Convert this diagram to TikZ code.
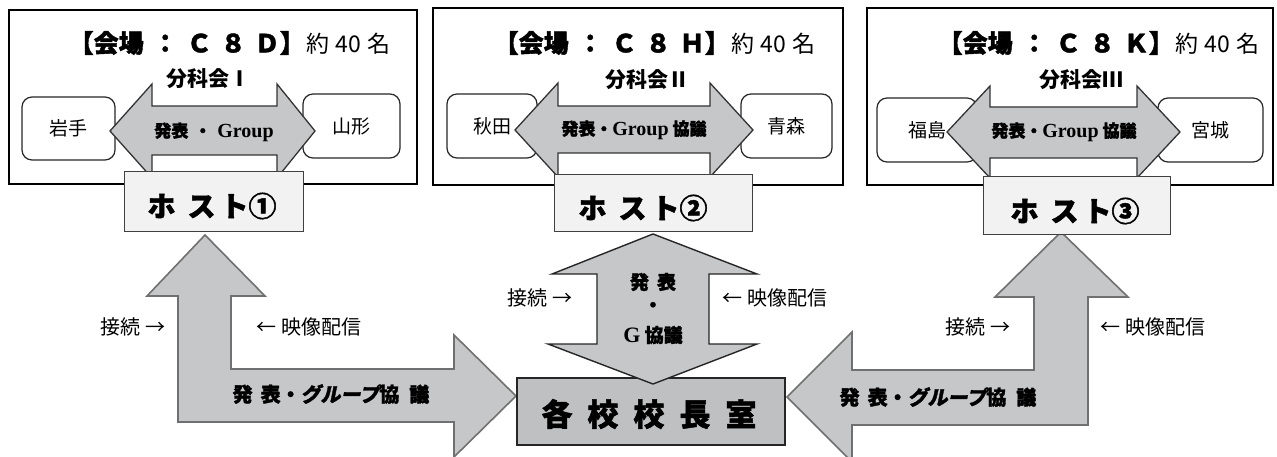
\documentclass[tikz,border=0pt]{standalone}
\usepackage{fontspec}
\setmainfont{Noto Sans CJK JP}
\newfontfamily\heavy{Noto Sans CJK JP}[BoldFeatures={FakeBold=1.6}]
\newfontfamily\heavysl{Noto Sans CJK JP}[BoldFeatures={FakeBold=1.6,FakeSlant=0.2}]
\newfontfamily\tms{Liberation Serif}
\definecolor{arrgray}{HTML}{C6C7C9}
\definecolor{arredge}{HTML}{707070}
\definecolor{hostfill}{HTML}{F2F2F2}
\definecolor{schoolfill}{HTML}{BFC0C2}
\newcommand\fs[1]{\fontsize{#1}{#1}\selectfont}
\begin{document}
\begin{tikzpicture}[x=1pt,y=-1pt,
  venue/.style={draw=black,line width=2pt,inner sep=0pt},
  pref/.style={draw=black!85,line width=1.2pt,rounded corners=10pt,fill=white,inner sep=0pt,font=\fs{19}},
  host/.style={draw=black!75,line width=1pt,fill=hostfill,inner sep=0pt},
  school/.style={draw=black!85,line width=1.2pt,fill=schoolfill,inner sep=0pt},
  smallarrow/.style={fill=arrgray,draw=black!80,line width=1.3pt,line join=miter},
  bigarrow/.style={fill=arrgray,draw=arredge,line width=1.6pt,line join=miter},
  centerarrow/.style={fill=arrgray,draw=black!85,line width=1.4pt,line join=miter},
  titletxt/.style={inner sep=0pt,font=\heavy\fs{25}\bfseries},
  subtxt/.style={inner sep=0pt,font=\fs{21}\bfseries},
  arrtxt/.style={inner sep=0pt,font=\heavy\fs{17}\bfseries},
  hosttxt/.style={inner sep=0pt,font=\heavy\fs{28}\bfseries},
  labtxt/.style={inner sep=0pt,font=\fs{20}},
  ltxt/.style={inner sep=0pt,font=\heavy\fs{20}\bfseries}
]
\useasboundingbox (0,0) rectangle (1277,457);

% venue boxes
\node[venue,minimum width=408,minimum height=174] (v1) at (213,97) {};
\node[venue,minimum width=410,minimum height=177] (v2) at (638,96.5) {};
\node[venue,minimum width=406,minimum height=177] (v3) at (1070,96.5) {};

% titles
\node[titletxt] (t1) at (229.5,43) {【会場\hspace{9pt}：\hspace{9pt}Ｃ\hspace{9pt}８\hspace{9pt}Ｄ】\hspace{2pt}\normalfont\fs{23}約\hspace{6pt}40\hspace{6pt}名};
\node[titletxt] (t2) at (654.5,43) {【会場\hspace{9pt}：\hspace{9pt}Ｃ\hspace{9pt}８\hspace{9pt}Ｈ】\hspace{2pt}\normalfont\fs{23}約\hspace{6pt}40\hspace{6pt}名};
\node[titletxt] (t3) at (1098.5,43) {【会場\hspace{9pt}：\hspace{9pt}Ｃ\hspace{9pt}８\hspace{9pt}Ｋ】\hspace{2pt}\normalfont\fs{23}約\hspace{6pt}40\hspace{6pt}名};

\node[subtxt] (s1) at (208,79) {分科会Ⅰ};
\node[subtxt] (s2) at (647,80) {分科会Ⅱ};
\node[subtxt] (s3) at (1081,80) {分科会Ⅲ};

% prefecture boxes
\node[pref,minimum width=93,minimum height=63] (iwate) at (68.5,128.5) {岩手};
\node[pref,minimum width=97,minimum height=64] (yamagata) at (351.5,126) {山形};
\node[pref,minimum width=90,minimum height=64] (akita) at (492,126) {秋田};
\node[pref,minimum width=91,minimum height=64] (aomori) at (786.5,126) {青森};
\node[pref,minimum width=100,minimum height=64] (fukushima) at (927,130) {福島};
\node[pref,minimum width=105,minimum height=64] (miyagi) at (1210.5,130) {宮城};

% double arrows in venues
\draw[smallarrow] (110,131) -- (152,84) -- (152,106) -- (277,106) -- (277,84) -- (315,131)
  -- (277,178) -- (277,155) -- (152,155) -- (152,178) -- cycle;
\draw[smallarrow] (515,130) -- (558,83) -- (558,106) -- (710,106) -- (710,83) -- (753,130)
  -- (710,177) -- (710,153) -- (558,153) -- (558,177) -- cycle;
\draw[smallarrow] (947,132) -- (990,86) -- (990,107) -- (1137,107) -- (1137,86) -- (1180,132)
  -- (1137,178) -- (1137,158) -- (990,158) -- (990,178) -- cycle;

\node[arrtxt] (a1) at (214,132) {発表\hspace{6pt}・\hspace{6pt}{\tms\fs{20}\bfseries Group}};
\node[arrtxt] (a2) at (634,130) {発表・{\tms\fs{20}\bfseries Group} 協議};
\node[arrtxt] (a3) at (1064,132) {発表・{\tms\fs{20}\bfseries Group} 協議};

% L-shaped arrows
\draw[bigarrow] (205,235) -- (265,296) -- (231,296) -- (231,369) -- (454,369) -- (454,335)
  -- (516,396) -- (454,457) -- (454,422) -- (178,422) -- (178,296) -- (147,296) -- cycle;
\draw[bigarrow] (1061,232) -- (995,297) -- (1034,297) -- (1034,370) -- (852,370) -- (852,332)
  -- (787,397) -- (852,462) -- (852,425) -- (1088,425) -- (1088,297) -- (1128,297) -- cycle;

% hosts
\node[host,minimum width=179,minimum height=60] (h1) at (213.5,202) {};
\node[host,minimum width=198,minimum height=57] (h2) at (653,203.5) {};
\node[host,minimum width=187,minimum height=58] (h3) at (1076.5,206) {};
\node[hosttxt] (h1t) at (212,206) {ホ\hspace{12pt}ス\hspace{5pt}ト①};
\node[hosttxt] (h2t) at (643,208) {ホ\hspace{12pt}ス\hspace{5pt}ト②};
\node[hosttxt] (h3t) at (1075,211) {ホ\hspace{12pt}ス\hspace{5pt}ト③};

% school box and central arrow
\node[school,minimum width=268,minimum height=67] (sch) at (651,411.5) {};
\node[inner sep=0pt,font=\heavy\fs{31}\bfseries] (scht) at (649,414) {各\hspace{15pt}校\hspace{15pt}校\hspace{15pt}長\hspace{15pt}室};
\draw[centerarrow] (653,234) -- (757,274) -- (709,274) -- (709,344) -- (757,344) -- (653,384)
  -- (548,344) -- (597,344) -- (597,274) -- (552,274) -- cycle;
\node[arrtxt,font=\heavy\fs{19}\bfseries] (c1) at (653,282) {発\hspace{8pt}表};
\node[arrtxt,font=\heavy\fs{19}\bfseries] (c2) at (653,307) {・};
\node[arrtxt,font=\heavy\fs{19}\bfseries] (c3) at (653,335) {{\tms\fs{22}\bfseries G} 協議};

% L-arrow texts
\node[ltxt] (l1) at (331,394) {発\hspace{8pt}表・{\heavysl グループ}協\hspace{10pt}議};
\node[ltxt] (l2) at (938,397) {発\hspace{8pt}表・{\heavysl グループ}協\hspace{10pt}議};

% labels
\node[labtxt] (k1) at (133,327) {接続 →};
\node[labtxt] (e1) at (309,327) {← 映像配信};
\node[labtxt] (k2) at (540,298) {接続 →};
\node[labtxt] (e2) at (775,298) {← 映像配信};
\node[labtxt] (k3) at (978,327) {接続 →};
\node[labtxt] (e3) at (1153,327) {← 映像配信};
\end{tikzpicture}
\end{document}
